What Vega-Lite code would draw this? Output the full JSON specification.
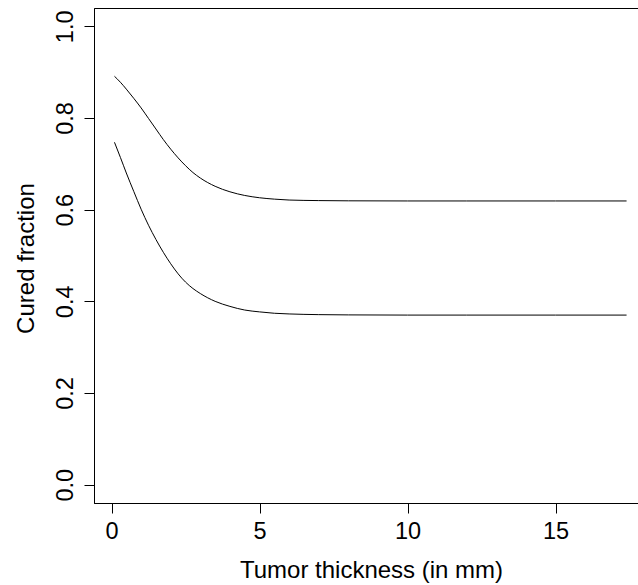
{
  "$schema": "https://vega.github.io/schema/vega-lite/v6.json",
  "autosize": {"type": "none"},
  "padding": {"left": 94, "top": 8, "right": 0, "bottom": 82},
  "width": 553,
  "height": 495,
  "background": "white",
  "config": {
    "view": {"stroke": "black", "strokeWidth": 1},
    "font": "Liberation Sans",
    "axis": {
      "labelFont": "Liberation Sans",
      "titleFont": "Liberation Sans",
      "labelFontSize": 23.5,
      "titleFontSize": 24,
      "labelColor": "black",
      "titleColor": "black",
      "titleFontWeight": "normal",
      "domainColor": "black",
      "tickColor": "black",
      "tickSize": 10,
      "grid": false
    }
  },
  "data": {
    "values": [
      {"x": 0.1, "y": 0.891, "g": "upper"},
      {"x": 0.3, "y": 0.878, "g": "upper"},
      {"x": 0.5, "y": 0.863, "g": "upper"},
      {"x": 0.75, "y": 0.843, "g": "upper"},
      {"x": 1.0, "y": 0.822, "g": "upper"},
      {"x": 1.25, "y": 0.799, "g": "upper"},
      {"x": 1.5, "y": 0.776, "g": "upper"},
      {"x": 1.75, "y": 0.753, "g": "upper"},
      {"x": 2.0, "y": 0.732, "g": "upper"},
      {"x": 2.25, "y": 0.713, "g": "upper"},
      {"x": 2.5, "y": 0.696, "g": "upper"},
      {"x": 2.75, "y": 0.681, "g": "upper"},
      {"x": 3.0, "y": 0.669, "g": "upper"},
      {"x": 3.5, "y": 0.651, "g": "upper"},
      {"x": 4.0, "y": 0.639, "g": "upper"},
      {"x": 4.5, "y": 0.631, "g": "upper"},
      {"x": 5.0, "y": 0.626, "g": "upper"},
      {"x": 5.5, "y": 0.623, "g": "upper"},
      {"x": 6.0, "y": 0.621, "g": "upper"},
      {"x": 7.0, "y": 0.6198, "g": "upper"},
      {"x": 8.0, "y": 0.6193, "g": "upper"},
      {"x": 10.0, "y": 0.619, "g": "upper"},
      {"x": 12.0, "y": 0.619, "g": "upper"},
      {"x": 15.0, "y": 0.619, "g": "upper"},
      {"x": 17.4, "y": 0.619, "g": "upper"},
      {"x": 0.1, "y": 0.747, "g": "lower"},
      {"x": 0.3, "y": 0.714, "g": "lower"},
      {"x": 0.5, "y": 0.680, "g": "lower"},
      {"x": 0.75, "y": 0.640, "g": "lower"},
      {"x": 1.0, "y": 0.601, "g": "lower"},
      {"x": 1.25, "y": 0.566, "g": "lower"},
      {"x": 1.5, "y": 0.535, "g": "lower"},
      {"x": 1.75, "y": 0.507, "g": "lower"},
      {"x": 2.0, "y": 0.482, "g": "lower"},
      {"x": 2.25, "y": 0.460, "g": "lower"},
      {"x": 2.5, "y": 0.442, "g": "lower"},
      {"x": 2.75, "y": 0.428, "g": "lower"},
      {"x": 3.0, "y": 0.417, "g": "lower"},
      {"x": 3.5, "y": 0.400, "g": "lower"},
      {"x": 4.0, "y": 0.389, "g": "lower"},
      {"x": 4.5, "y": 0.381, "g": "lower"},
      {"x": 5.0, "y": 0.377, "g": "lower"},
      {"x": 5.5, "y": 0.374, "g": "lower"},
      {"x": 6.0, "y": 0.3725, "g": "lower"},
      {"x": 7.0, "y": 0.371, "g": "lower"},
      {"x": 8.0, "y": 0.3704, "g": "lower"},
      {"x": 10.0, "y": 0.370, "g": "lower"},
      {"x": 12.0, "y": 0.370, "g": "lower"},
      {"x": 15.0, "y": 0.370, "g": "lower"},
      {"x": 17.4, "y": 0.370, "g": "lower"}
    ]
  },
  "mark": {"type": "line", "color": "black", "strokeWidth": 1, "interpolate": "monotone", "clip": true},
  "encoding": {
    "x": {
      "field": "x", "type": "quantitative",
      "scale": {"domain": [-0.592, 18.09], "nice": false, "zero": false},
      "axis": {
        "title": "Tumor thickness (in mm)",
        "values": [0, 5, 10, 15],
        "format": "d",
        "labelBaseline": "alphabetic",
        "labelPadding": 25,
        "titleBaseline": "alphabetic",
        "titleY": 74,
        "titleX": 277
      }
    },
    "y": {
      "field": "y", "type": "quantitative",
      "scale": {"domain": [-0.04, 1.04], "nice": false, "zero": false},
      "axis": {
        "title": "Cured fraction",
        "values": [0, 0.2, 0.4, 0.6, 0.8, 1.0],
        "format": ".1f",
        "labelAngle": 270,
        "labelAlign": "center",
        "labelBaseline": "alphabetic",
        "labelPadding": 12,
        "titleAngle": 270,
        "titleBaseline": "alphabetic",
        "titleAlign": "center",
        "titleX": -61,
        "titleY": 250
      }
    },
    "detail": {"field": "g"}
  }
}
